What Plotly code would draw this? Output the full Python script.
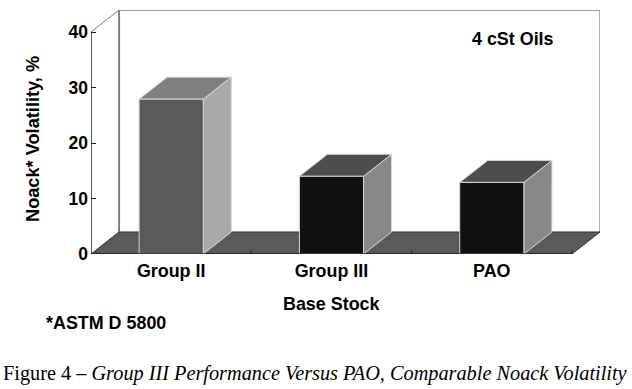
import plotly.graph_objects as go

categories = ["Group II", "Group III", "PAO"]
noack_values = [27.9, 14.0, 12.9]
y_ticks = [0, 10, 20, 30, 40]
front_colors = ["#595959", "#111111", "#111111"]
side_colors = ["#a9a9a9", "#888888", "#888888"]
top_colors = ["#808080", "#4d4d4d", "#4d4d4d"]

DX, DY = 0.175, 3.97   # oblique depth in axis units
BAR_W = 0.4
X0, X1, YMAX = -0.5, 2.5, 40
W, H = 632, 389
BOLD = "Liberation Sans"
EDGE = "#d9d9d9"
LABEL = 17.9

fig = go.Figure()


def poly(xs, ys, fill, line="rgba(0,0,0,0)", lw=1):
    fig.add_trace(go.Scatter(x=xs, y=ys, mode="lines", fill="toself" if fill else None,
                             fillcolor=fill, line=dict(color=line, width=lw),
                             hoverinfo="skip", showlegend=False, cliponaxis=False))


# back wall
poly([X0 + DX, X1 + DX], [YMAX + DY, YMAX + DY], None, "#999999", 2)
poly([X1 + DX, X1 + DX], [YMAX + DY, DY], None, "#999999", 1.5)
poly([X0 + DX, X0 + DX], [YMAX + DY, DY], None, "#7f7f7f", 2)
# left wall edges
poly([X0, X0 + DX], [YMAX, YMAX + DY], None, "#808080", 1)
# floor
poly([X0, X1, X1 + DX, X0 + DX, X0], [0, 0, DY, DY, 0], "#595959", "#333333", 1)
# floor ticks between categories
for tx in [0.5, 1.5, 2.5]:
    poly([tx, tx], [0, 0.7], None, "#222222", 1)
# bars
for i, v in enumerate(noack_values):
    l, r = i - BAR_W / 2, i + BAR_W / 2
    poly([r, r + DX, r + DX, r, r], [0, DY, v + DY, v, 0], side_colors[i], EDGE, 1)
    poly([l, r, r + DX, l + DX, l], [v, v, v + DY, v + DY, v], top_colors[i], EDGE, 1)
    poly([l, r, r, l, l], [0, 0, v, v, 0], front_colors[i], EDGE, 1)
# front axis lines
poly([X0, X1], [0, 0], None, "#222222", 1.5)
poly([X0, X0], [0, YMAX], None, "#222222", 1.5)


def place(px, py):
    return dict(xref="x domain", yref="y domain",
                x=(px - 91) / (W - 91 - 32), y=(254 - py) / (254 - 10), showarrow=False)


fig.update_layout(
    width=W, height=H, autosize=False,
    margin=dict(l=91, r=32, t=10, b=135, pad=0),
    paper_bgcolor="white", plot_bgcolor="white", showlegend=False,
    xaxis=dict(range=[X0, X1 + DX], tickmode="array", tickvals=[0, 1, 2], ticktext=categories,
               showgrid=False, zeroline=False, showline=False, ticks="", ticklabelstandoff=4,
               tickfont=dict(family=BOLD, size=LABEL, color="black", weight=700)),
    yaxis=dict(range=[0, YMAX + DY], tickmode="array", tickvals=y_ticks,
               showgrid=False, zeroline=False, showline=False, ticks="inside", ticklen=5,
               tickcolor="#222222", tickwidth=1, ticklabelstandoff=2,
               tickfont=dict(family=BOLD, size=17.5, color="black", weight=700)),
    annotations=[
        dict(text="<b>Noack* Volatility, %</b>", textangle=-90, xanchor="center", yanchor="middle",
             font=dict(family=BOLD, size=18.2, color="black"), **place(33, 139)),
        dict(text="<b>4 cSt Oils</b>", xanchor="center", yanchor="middle",
             font=dict(family=BOLD, size=LABEL, color="black"), **place(512.5, 39)),
        dict(text="<b>Base Stock</b>", xanchor="center", yanchor="middle",
             font=dict(family=BOLD, size=LABEL, color="black"), **place(331, 304)),
        dict(text="<b>*ASTM D 5800</b>", xanchor="left", yanchor="middle",
             font=dict(family=BOLD, size=LABEL, color="black"), **place(44, 323)),
        dict(text="Figure 4 – <i>Group III Performance Versus PAO, Comparable Noack Volatility</i>",
             xanchor="left", yanchor="middle",
             font=dict(family="Liberation Serif", size=20.3, color="black"), **place(1, 373)),
    ],
)

fig.write_html("out.html", config=dict(displayModeBar=False),
               post_script="document.body.style.margin='0';")
